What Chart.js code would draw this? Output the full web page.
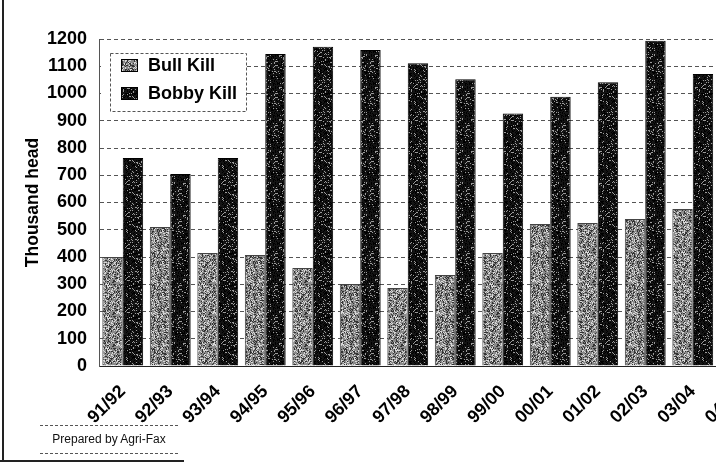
<!DOCTYPE html>
<html><head><meta charset="utf-8">
<script src="https://cdn.jsdelivr.net/npm/chart.js@4"></script>
<style>
html,body{margin:0;padding:0;background:#fff;overflow:hidden;width:716px;height:463px;}
#wrap{position:absolute;left:0;top:0;width:716px;height:463px;overflow:hidden;background:#fff;}
#c{position:absolute;left:0;top:0;}
.frameL{position:absolute;left:2px;top:0;width:0;height:462px;border-left:2px solid #222;}
.frameB{position:absolute;left:0;top:460px;width:184px;height:0;border-top:2px solid #222;}
.note{position:absolute;left:40px;top:425px;width:138px;height:27px;border-top:1px dashed #555;border-bottom:1px dashed #555;font:12px "Liberation Sans",Arial,sans-serif;color:#111;text-align:center;line-height:26px;}
</style></head>
<body><div id="wrap"><canvas id="c" width="780" height="463"></canvas>
<div class="frameL"></div><div class="frameB"></div>
<div class="note">Prepared by Agri-Fax</div></div>
<script>
const categories = ['91/92','92/93','93/94','94/95','95/96','96/97','97/98','98/99','99/00','00/01','01/02','02/03','03/04','04/05'];
const bullKill = [400,510,415,407,360,301,286,334,415,521,525,539,576,null];
const bobbyKill = [763,705,763,1145,1172,1160,1111,1052,927,988,1041,1194,1072,null];
const yTicks = [0,100,200,300,400,500,600,700,800,900,1000,1100,1200];
const seriesNames = ['Bull Kill','Bobby Kill'];

function speckle(base, light, dark, pLight, pDark, seed){
  const c = document.createElement('canvas'); c.width = 32; c.height = 32;
  const x = c.getContext('2d'); x.fillStyle = base; x.fillRect(0,0,32,32);
  let s = seed >>> 0;
  function rnd(){ s = (Math.imul(s,1103515245) + 12345) >>> 0; return (s >>> 8) / 16777216; }
  for (let i=0;i<32;i++) for (let j=0;j<32;j++){
    const r = rnd();
    if (r < pLight){ x.fillStyle = light; x.fillRect(i,j,1,1); }
    else if (r < pLight + pDark){ x.fillStyle = dark; x.fillRect(i,j,1,1); }
  }
  return x.createPattern(c,'repeat');
}
const bullFill = speckle('#8a8a8a','#d8d8d8','#333333',0.22,0.25,12345);
const bobbyFill = speckle('#141414','#9a9a9a','#000000',0.10,0.3,6789);

const FONT = '"Liberation Sans", Arial, sans-serif';

const legendPlugin = {
  id: 'boxLegend',
  afterDraw(chart){
    const ctx = chart.ctx; ctx.save();
    ctx.fillStyle = '#fff'; ctx.fillRect(101,53,146,58);
    ctx.setLineDash([3,2]); ctx.strokeStyle = '#555'; ctx.lineWidth = 1;
    ctx.strokeRect(110.5,53.5,136,58);
    ctx.setLineDash([]);
    chart.data.datasets.forEach((ds,i)=>{
      const y = 65 + i*28;
      ctx.fillStyle = ds.backgroundColor; ctx.fillRect(121,y-6,17,13);
      ctx.strokeStyle = '#000'; ctx.strokeRect(121.5,y-5.5,16,12);
      ctx.fillStyle = '#000'; ctx.font = 'bold 18px ' + FONT; ctx.textBaseline = 'middle';
      ctx.fillText(ds.label,148,y+1);
    });
    ctx.restore();
  }
};

new Chart(document.getElementById('c'), {
  type: 'bar',
  data: {
    labels: categories,
    datasets: [
      {label: seriesNames[0], data: bullKill, backgroundColor: bullFill, borderColor: '#444', borderWidth: 1, categoryPercentage: 0.86, barPercentage: 1},
      {label: seriesNames[1], data: bobbyKill, backgroundColor: bobbyFill, borderColor: '#000', borderWidth: 1, categoryPercentage: 0.86, barPercentage: 1}
    ]
  },
  options: {
    responsive: false, animation: false, devicePixelRatio: 1,
    layout: {padding: {top: 39, right: 16, left: 0, bottom: 0}},
    plugins: {legend: {display: false}, tooltip: {enabled: false}},
    scales: {
      x: {
        grid: {display: false, drawTicks: false},
        border: {display: true, color: '#222', width: 1},
        ticks: {autoSkip: false, minRotation: 45, maxRotation: 45, padding: 15, color: '#000', font: {family: FONT, size: 18, weight: 'bold'}},
        afterFit(s){ s.height = 97; }
      },
      y: {
        min: 0, max: 1200,
        afterBuildTicks(s){ s.ticks = yTicks.map(v => ({value: v})); },
        grid: {color: '#555', lineWidth: 1, drawTicks: false},
        border: {display: true, color: '#555', width: 1, dash: [4,3]},
        ticks: {padding: 12, color: '#000', font: {family: FONT, size: 18, weight: 'bold'}, callback: v => String(v)},
        title: {display: true, text: 'Thousand head', color: '#000', font: {family: FONT, size: 17.5, weight: 'bold'}, padding: {top: 23, bottom: 0}},
        afterFit(s){ s.width = 99; }
      }
    }
  },
  plugins: [legendPlugin]
});
</script></body></html>
